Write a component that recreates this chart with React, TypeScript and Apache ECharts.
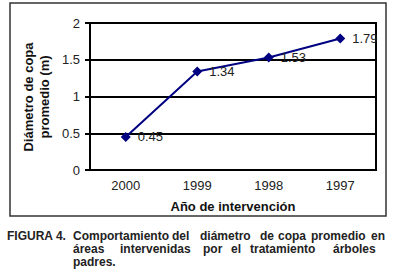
import React, { useEffect, useRef } from "react";
import * as echarts from "echarts";

const categories = ["2000", "1999", "1998", "1997"];
const values = [0.45, 1.34, 1.53, 1.79];
const yTicks = [0, 0.5, 1, 1.5, 2];

const FONT = '"Liberation Sans", Arial, sans-serif';

const captionLines: { y: number; words: [string, number][] }[] = [
  {
    y: 236,
    words: [
      ["FIGURA 4.", 7],
      ["Comportamiento", 73],
      ["del", 172],
      ["diámetro", 200],
      ["de", 260],
      ["copa", 278],
      ["promedio", 311],
      ["en", 371],
    ],
  },
  {
    y: 249,
    words: [
      ["áreas", 73],
      ["intervenidas", 120],
      ["por", 203],
      ["el", 231],
      ["tratamiento", 250],
      ["árboles", 333],
    ],
  },
  { y: 262, words: [["padres.", 73]] },
];

export default function App() {
  const ref = useRef<HTMLDivElement>(null);
  useEffect(() => {
    if (!ref.current) return;
    const chart = echarts.init(ref.current, null, { renderer: "svg" });
    const graphics: any[] = [
      {
        type: "rect",
        shape: { x: 10, y: 3, width: 376, height: 213 },
        style: { fill: "none", stroke: "#333", lineWidth: 1.5 },
        z: 0,
      },
      {
        type: "text",
        x: 36,
        y: 97,
        rotation: Math.PI / 2,
        style: {
          text: "Diámetro de copa\npromedio (m)",
          font: `bold 13px ${FONT}`,
          fill: "#111",
          align: "center",
          verticalAlign: "middle",
          lineHeight: 16,
        },
      },
    ];
    captionLines.forEach((line) => {
      line.words.forEach(([w, x]) => {
        graphics.push({
          type: "text",
          x,
          y: line.y,
          style: {
            text: w,
            font: `bold 12px ${FONT}`,
            fill: "#222",
            align: "left",
            verticalAlign: "middle",
          },
        });
      });
    });
    chart.setOption({
      animation: false,
      backgroundColor: "#fff",
      grid: {
        left: 90,
        right: 18,
        top: 23,
        bottom: 105,
        show: true,
        borderColor: "#000",
        borderWidth: 2,
        backgroundColor: "transparent",
      },
      xAxis: {
        type: "category",
        data: categories,
        boundaryGap: true,
        axisLine: { lineStyle: { color: "#000", width: 2 } },
        axisTick: { show: false },
        axisLabel: {
          fontFamily: FONT,
          fontSize: 13,
          color: "#222",
          margin: 9,
        },
        name: "Año de intervención",
        nameLocation: "middle",
        nameGap: 30,
        nameTextStyle: {
          fontFamily: FONT,
          fontSize: 13,
          fontWeight: "bold",
          color: "#111",
        },
      },
      yAxis: {
        type: "value",
        min: yTicks[0],
        max: yTicks[yTicks.length - 1],
        interval: 0.5,
        axisLine: { show: true, lineStyle: { color: "#000", width: 2 } },
        axisTick: {
          show: true,
          inside: false,
          length: 5,
          lineStyle: { color: "#000", width: 2 },
        },
        splitLine: { lineStyle: { color: "#000", width: 2 } },
        axisLabel: {
          fontFamily: FONT,
          fontSize: 13,
          color: "#222",
          margin: 10,
        },
      },
      series: [
        {
          type: "line",
          data: values,
          symbol: "diamond",
          symbolSize: 10,
          lineStyle: { color: "#000080", width: 2 },
          itemStyle: { color: "#000080" },
          label: {
            show: true,
            position: "right",
            distance: 7,
            fontFamily: FONT,
            fontSize: 13,
            color: "#222",
          },
        },
      ],
      graphic: graphics,
    });
    return () => chart.dispose();
  }, []);
  return (
    <div
      ref={ref}
      style={{ position: "absolute", left: 0, top: 0, width: 394, height: 275 }}
    />
  );
}
